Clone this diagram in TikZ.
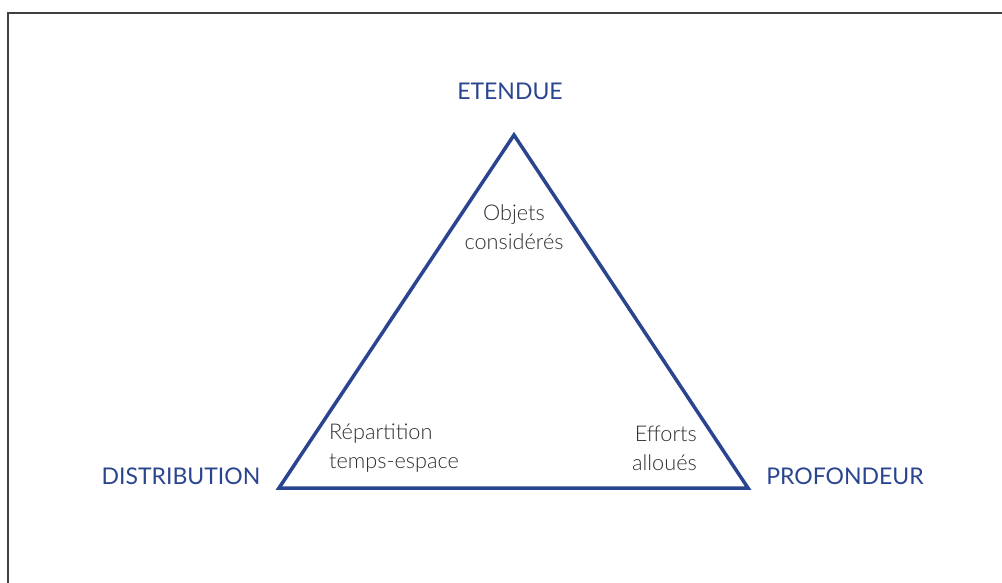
\documentclass[tikz,border=0pt]{standalone}
\usepackage{fontspec}
\setmainfont{Lato}
\newfontfamily\lightfont{Lato Light}
\definecolor{navy}{HTML}{2A4590}
\definecolor{txtgray}{HTML}{2E2E2E}
\definecolor{framegray}{HTML}{404040}
\begin{document}
\begin{tikzpicture}[x=1pt,y=-1pt,
  corner/.style={text=navy,font=\fontsize{23}{27}\selectfont,inner sep=0pt,anchor=center},
  inner/.style={text=txtgray,font=\lightfont\fontsize{21.7}{29}\selectfont,inner sep=0pt},
  tri/.style={draw=navy,line width=3.5pt,line join=miter},
  frame/.style={draw=framegray,line width=2pt}]
\useasboundingbox (0,0) rectangle (1002,583);
\coordinate (top) at (514,135);
\coordinate (bl) at (279,488);
\coordinate (br) at (748,488);
\coordinate (f1) at (8,600);
\coordinate (f2) at (8,13);
\coordinate (f3) at (1020,13);
\draw[frame] (f1) -- (f2) -- (f3);
\draw[tri] (top) -- (bl) -- (br) -- cycle;
\node[corner] (etendue) at (510,91) {ETENDUE};
\node[corner] (distribution) at (181,476) {DISTRIBUTION};
\node[corner] (profondeur) at (845,476) {PROFONDEUR};
\node[inner,align=center,anchor=center] (objets) at (514,227) {Objets\\considérés};
\node[inner,align=left,anchor=west] (repart) at (329,448) {Répartition\\temps-espace};
\node[inner,align=right,anchor=east] (efforts) at (697,448) {Efforts\\alloués};
\end{tikzpicture}
\end{document}
